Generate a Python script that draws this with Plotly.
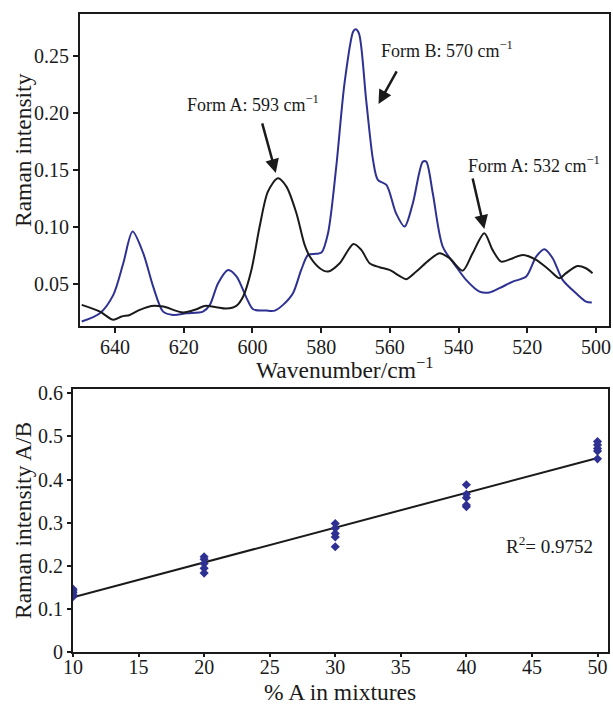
import plotly.graph_objects as go

# ---------------- data: Raman spectra ----------------
wn_B = [649.7, 644.4, 640.5, 637.6, 634.9, 631.8, 628.9, 626.0, 623.1, 619.2, 614.4, 612.4,
        610.0, 607.1, 604.6, 601.7, 599.8, 595.9, 593.5, 591.1, 588.2, 585.8, 583.8, 581.5,
        579.9, 578.0, 575.6, 573.2, 570.7, 570.0, 569.0, 566.9, 564.9, 563.5, 561.0, 558.2,
        555.7, 553.3, 550.4, 549.4, 547.5, 544.6, 540.7, 537.8, 533.9, 531.0, 528.1, 524.2,
        520.3, 517.4, 515.0, 512.6, 509.7, 505.8, 502.9, 501.2]
int_B = [0.0171, 0.0244, 0.0405, 0.0682, 0.0959, 0.0770, 0.0477, 0.0258, 0.0229, 0.0244, 0.0258, 0.0317,
         0.0507, 0.0623, 0.0565, 0.0376, 0.0279, 0.0267, 0.0267, 0.0317, 0.0419, 0.0623, 0.0755, 0.0764,
         0.0775, 0.0945, 0.1528, 0.2258, 0.2710, 0.2731, 0.2696, 0.2112, 0.1587, 0.1412, 0.1368, 0.1120,
         0.1003, 0.1208, 0.1572, 0.1572, 0.1295, 0.0828, 0.0652, 0.0536, 0.0433, 0.0425, 0.0463, 0.0521,
         0.0565, 0.0740, 0.0805, 0.0726, 0.0536, 0.0419, 0.0346, 0.0337]

wn_A = [649.7, 644.4, 640.5, 638.1, 635.7, 632.8, 629.4, 626.0, 620.2, 616.3, 613.9, 610.5,
        607.6, 604.7, 602.7, 600.3, 597.9, 595.5, 592.6, 590.1, 587.2, 584.8, 583.3, 580.4,
        578.0, 574.6, 570.6, 568.3, 565.9, 563.0, 560.1, 557.2, 555.2, 552.3, 548.5, 545.5,
        542.6, 538.8, 535.9, 532.5, 530.1, 527.6, 524.2, 521.3, 517.4, 513.6, 510.7, 508.7,
        505.4, 502.9, 501.0]
int_A = [0.0317, 0.0258, 0.0186, 0.0215, 0.0229, 0.0273, 0.0308, 0.0302, 0.0250, 0.0279, 0.0308, 0.0297,
         0.0285, 0.0308, 0.0390, 0.0623, 0.1003, 0.1309, 0.1426, 0.1353, 0.1120, 0.0842, 0.0740, 0.0638,
         0.0609, 0.0682, 0.0851, 0.0799, 0.0682, 0.0647, 0.0623, 0.0571, 0.0542, 0.0609, 0.0711, 0.0770,
         0.0726, 0.0617, 0.0770, 0.0945, 0.0799, 0.0696, 0.0726, 0.0755, 0.0711, 0.0623, 0.0551, 0.0595,
         0.0658, 0.0638, 0.0595]

# ---------------- data: calibration ----------------
pct_A = [10, 10, 10, 10, 10,
         20, 20, 20, 20, 20,
         30, 30, 30, 30, 30,
         40, 40, 40, 40, 40,
         50, 50, 50, 50, 50]
ratio_AB = [0.128, 0.133, 0.138, 0.142, 0.146,
            0.183, 0.194, 0.205, 0.215, 0.221,
            0.244, 0.267, 0.275, 0.287, 0.298,
            0.337, 0.341, 0.358, 0.366, 0.388,
            0.448, 0.466, 0.472, 0.480, 0.488]
fit_x = [10, 50]
fit_y = [0.127, 0.450]

top_xticks = [640, 620, 600, 580, 560, 540, 520, 500]
top_yticks = [0.05, 0.10, 0.15, 0.20, 0.25]
bot_xticks = [10, 15, 20, 25, 30, 35, 40, 45, 50]
bot_yticks = [0, 0.1, 0.2, 0.3, 0.4, 0.5, 0.6]

BLUE = "#2e3192"
INK = "#1a1a1a"
FONT = "Liberation Serif"
W, H = 613, 704

fig = go.Figure()
fig.add_trace(go.Scatter(x=wn_B, y=int_B, mode="lines", line=dict(color=BLUE, width=2, shape="spline", smoothing=0.8),
                         xaxis="x", yaxis="y", showlegend=False))
fig.add_trace(go.Scatter(x=wn_A, y=int_A, mode="lines", line=dict(color=INK, width=2, shape="spline", smoothing=0.8),
                         xaxis="x", yaxis="y", showlegend=False))
fig.add_trace(go.Scatter(x=fit_x, y=fit_y, mode="lines", line=dict(color=INK, width=2),
                         xaxis="x2", yaxis="y2", showlegend=False))
fig.add_trace(go.Scatter(x=pct_A, y=ratio_AB, mode="markers",
                         marker=dict(symbol="diamond", size=7, color=BLUE),
                         xaxis="x2", yaxis="y2", showlegend=False))

axis_common = dict(showline=True, linecolor=INK, linewidth=2, mirror=True, ticks="outside",
                   ticklen=5, tickwidth=1.5, tickcolor=INK, showgrid=False, zeroline=False,
                   automargin=False,
                   tickfont=dict(family=FONT, size=20, color=INK))
title_font = dict(family=FONT, size=23.5, color=INK)

fig.update_layout(
    template="none",
    width=W, height=H,
    margin=dict(l=0, r=0, t=0, b=0),
    paper_bgcolor="white", plot_bgcolor="white",
    font=dict(family=FONT, color=INK),
    xaxis=dict(axis_common, domain=[80 / W, 609 / W], anchor="y", range=[650.2, 496.2],
               tickvals=top_xticks, ticklabelstandoff=-3),
    yaxis=dict(axis_common, domain=[1 - 326 / H, 1 - 14 / H], anchor="x", range=[0.0132, 0.2865],
               tickvals=top_yticks, tickformat=".2f"),
    xaxis2=dict(axis_common, domain=[73 / W, 608 / W], anchor="y2", range=[10, 50.8],
                tickvals=bot_xticks, ticklen=3, ticklabelstandoff=-7),
    yaxis2=dict(axis_common, domain=[1 - 652 / H, 1 - 389 / H], anchor="x2", range=[0, 0.61],
                tickvals=bot_yticks, ticklen=4),
)

# axis titles
axis_titles = [
    ("Wavenumber/cm<sup>−1</sup>", 344.5 / W, 1 - 368 / H, 0),
    ("% A in mixtures", 340 / W, 1 - 692 / H, 0),
    ("Raman intensity", 23 / W, 1 - 150 / H, -90),
    ("Raman intensity A/B", 23 / W, 1 - 521 / H, -90),
]
for txt, xx, yy, ang in axis_titles:
    fig.add_annotation(x=xx, y=yy, xref="paper", yref="paper", text=txt, showarrow=False,
                       xanchor="center", yanchor="middle", textangle=ang, font=title_font)

ann_font = dict(family=FONT, size=18, color=INK)
labels = [
    ("Form A: 593 cm<sup>−1</sup>", 619.7, 0.2077),
    ("Form B: 570 cm<sup>−1</sup>", 563.3, 0.2550),
    ("Form A: 532 cm<sup>−1</sup>", 537.7, 0.1543),
]
for txt, xx, yy in labels:
    fig.add_annotation(x=xx, y=yy, xref="x", yref="y", text=txt, showarrow=False,
                       xanchor="left", yanchor="middle", font=ann_font)
arrows = [(593.2, 0.1473, -14, -51), (563.3, 0.2077, 19, -34), (532.5, 0.0982, -12, -52)]
for xx, yy, ax, ay in arrows:
    fig.add_annotation(x=xx, y=yy, xref="x", yref="y", text="", showarrow=True,
                       ax=ax, ay=ay, arrowhead=2, arrowsize=1.1, arrowwidth=2.5, arrowcolor=INK)

fig.add_annotation(x=0.896, y=1 - 545 / H, xref="paper", yref="paper",
                   text="R<sup>2</sup>= 0.9752", showarrow=False, xanchor="center", yanchor="middle",
                   font=dict(family=FONT, size=19, color=INK))

fig.write_html("out.html")
